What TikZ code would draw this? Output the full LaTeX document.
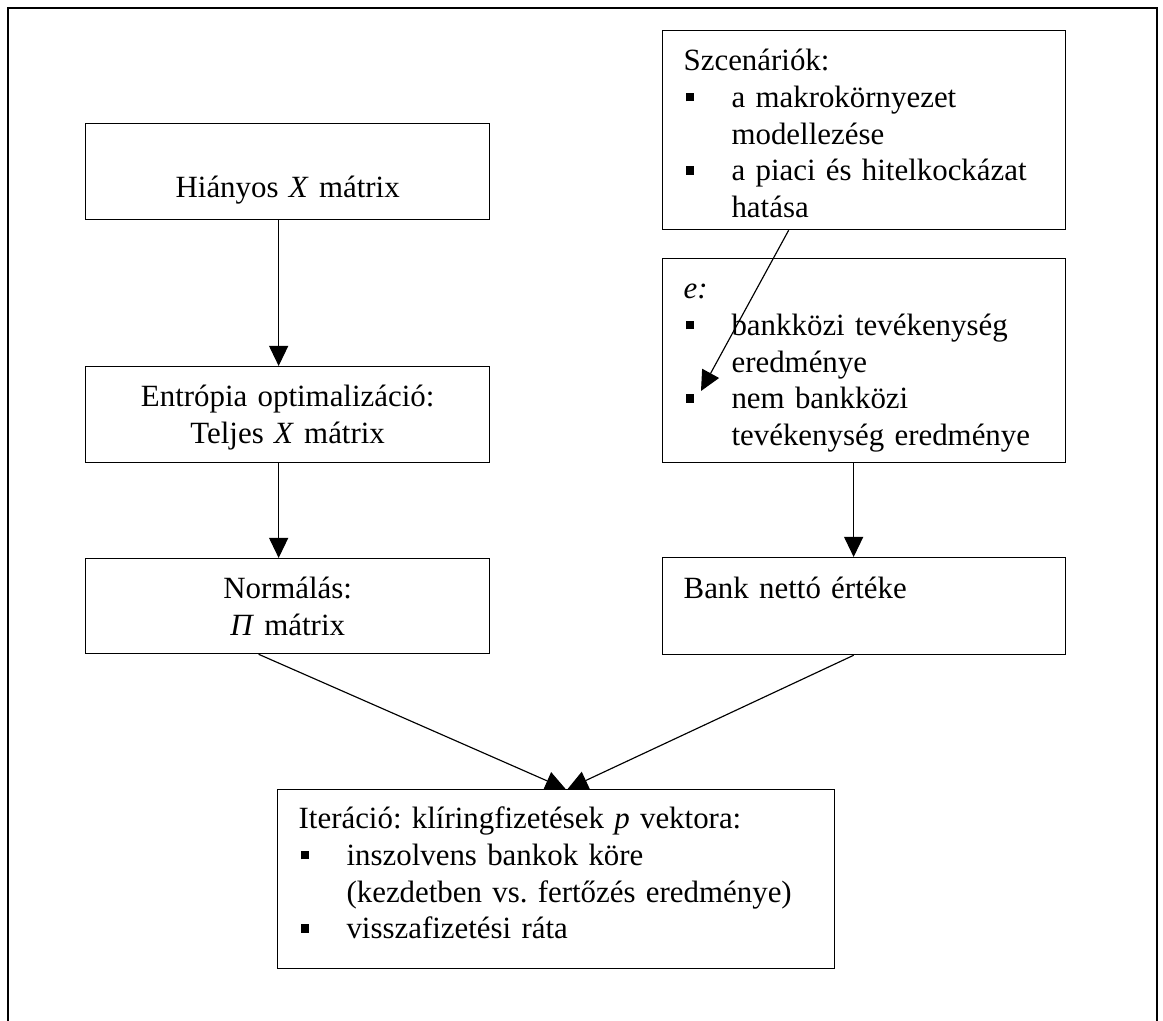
\documentclass[tikz,border=0pt]{standalone}
\usepackage{fontspec}
\setmainfont{Liberation Serif}
\usepackage{tikz}
\usetikzlibrary{arrows.meta}
\frenchspacing

\newcommand{\blt}{\makebox[18.6pt][l]{\hspace{0.8pt}\rule[2.3pt]{3.3pt}{3.3pt}}}
\newcommand{\bsk}{\hspace*{18.6pt}}

\tikzset{
  box/.style={draw, line width=.5pt, anchor=north west, inner xsep=8.16pt,
    inner ysep=0pt, text height=15.54pt, font=\fontsize{12pt}{14.25pt}\selectfont},
  leftbox/.style={box, text width=140.6pt, align=center},
  rightbox/.style={box, text width=140.2pt, align=left}
}

\begin{document}
\begin{tikzpicture}[x=.3884pt, y=.3884pt, line width=.45pt,
    >={Triangle[length=7.8pt, width=7.4pt]}]
      \useasboundingbox (0, 0) rectangle (1163, 1021);
      \draw[line width=.6pt] (8, 0) -- (8, 1013) -- (1157, 1013) -- (1157, 0);

      % left column
      \node[leftbox, text height=28.74pt, text depth=8.54pt] (hianyos) at (85, 898)
        {Hiányos \textit{X} mátrix};
      \node[leftbox, text depth=21.75pt] (entropia) at (85, 655)
        {Entrópia optimalizáció:\\ Teljes \textit{X} mátrix};
      \node[leftbox, text depth=21.36pt] (normalas) at (85, 463)
        {Normálás:\\ \textit{Π} mátrix};

      % right column
      \node[rightbox, text depth=61.76pt] (szcen) at (662, 991)
        {Szcenáriók:\\ \blt a makrokörnyezet\\ \bsk modellezése\\
         \blt a piaci és hitelkockázat\\ \bsk hatása};
      \node[rightbox, text depth=63.70pt] (eredm) at (662, 763)
        {\textit{e:}\\ \blt bankközi tevékenység\\ \bsk eredménye\\
         \blt nem bankközi\\ \bsk tevékenység eredménye};
      \node[rightbox, text height=15.92pt, text depth=21.75pt] (bank) at (662, 464)
        {Bank nettó értéke};

      \node[box, text width=200pt, align=left, text height=15.15pt, text depth=54.38pt]
        (iter) at (277, 232)
        {Iteráció: klíringfizetések \textit{p} vektora:\\ \blt inszolvens bankok köre\\
         \bsk (kezdetben vs. fertőzés eredménye)\\ \blt visszafizetési ráta};

      \coordinate (etip) at ([shift={(39, -133)}]eredm.north west);

      \draw[->] ([shift={(-9, 0)}]hianyos.south) -- ([shift={(-9, 0)}]entropia.north);
      \draw[->] ([shift={(-9, 0)}]entropia.south) -- ([shift={(-9, 0)}]normalas.north);
      \draw[->] ([shift={(-75.5, 0)}]szcen.south) -- (etip);
      \draw[->] ([shift={(-10.5, 0)}]eredm.south) -- ([shift={(-10.5, 0)}]bank.north);
      \draw[->] ([shift={(-29, 0)}]normalas.south) -- ([shift={(9.5, 0)}]iter.north);
      \draw[->] ([shift={(-10.5, 0)}]bank.south) -- ([shift={(11.5, 0)}]iter.north);
    \end{tikzpicture}
\end{document}
